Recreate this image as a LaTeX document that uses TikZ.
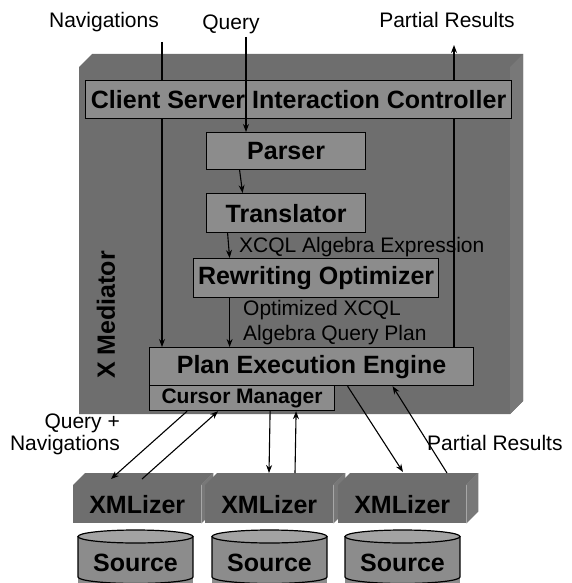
\documentclass[tikz,border=0pt]{standalone}
\usepackage{fontspec}
\setmainfont{Liberation Sans}
\usetikzlibrary{arrows.meta,calc}

\definecolor{slab}{gray}{0.43}
\definecolor{slabside}{gray}{0.47}
\definecolor{panel}{gray}{0.55}
\definecolor{drum}{gray}{0.55}
\definecolor{drumtop}{gray}{0.64}

\tikzset{
  module/.style={draw=black, line width=1.2pt, fill=panel, inner sep=0pt,
    anchor=north west, font=\fontsize{25}{30}\selectfont\bfseries},
  smallmodule/.style={module, font=\fontsize{21}{25}\selectfont\bfseries},
  wrapper/.style={fill=slab, inner sep=0pt, anchor=north west,
    minimum width=128, minimum height=38,
    font=\fontsize{25}{30}\selectfont\bfseries},
  store/.style={inner sep=0pt, font=\fontsize{25}{30}\selectfont\bfseries},
  note/.style={inner sep=0pt, font=\fontsize{21}{25}\selectfont},
  wire/.style={line width=1.1pt},
  flow/.style={wire, -{Stealth[length=8pt,width=6pt]}},
}

\begin{document}
\begin{tikzpicture}[x=1pt,y=-1pt]
\useasboundingbox (0,0) rectangle (572,583);

% mediator slab: front, top and right faces
\fill[slab] (79,67) -- (92,54) -- (523,54) -- (523,401) -- (510,414) -- (79,414) -- cycle;
\fill[slabside] (510,67) -- (523,54) -- (523,401) -- (510,414) -- cycle;
\node[rotate=90, inner sep=0pt, font=\fontsize{25}{30}\selectfont\bfseries] (med) at (106,315) {X Mediator};

% mediator modules
\node[module, minimum width=426, minimum height=38] (client) at (85,80) {Client Server Interaction Controller};
\node[module, minimum width=159, minimum height=37] (parser) at (206,132) {Parser};
\node[module, minimum width=159, minimum height=39] (trans) at (206,193) {Translator};
\node[module, minimum width=245, minimum height=39] (rewrite) at (193,258) {Rewriting Optimizer};
\node[module, minimum width=324, minimum height=38] (pee) at (149,347) {Plan Execution Engine};
\node[smallmodule, minimum width=185, minimum height=25] (cm) at (149,385) {Cursor Manager};

% top labels
\node[note, anchor=base] (nav) at (104,28) {Navigations};
\node[note, anchor=base] (query) at (231,30) {Query};
\node[note, anchor=base] (pres) at (447,28) {Partial Results};
\coordinate (navin) at (162,42);
\coordinate (qin) at (246,37);
\coordinate (prout) at (454,45);

% inner annotations
\node[note, anchor=base west] (xcql) at (239,252) {XCQL Algebra Expression};
\node[note, anchor=base west] (opt1) at (243,315) {Optimized XCQL};
\node[note, anchor=base west] (opt2) at (243,340) {Algebra Query Plan};

% client-side connectors
\draw[wire] (navin) -- (navin |- client.north);
\draw[flow] (navin |- client.south) -- (navin |- pee.north);
\draw[flow] (qin) -- (qin |- parser.north);
\draw[flow] (prout |- client.north) -- (prout);
\draw[wire] (prout |- pee.north) -- (prout |- client.south);

% compilation pipeline
\draw[flow] ([xshift=-46.5]parser.south) -- ([xshift=-43.5]trans.north);
\draw[flow] ([xshift=-58.5]trans.south) -- ([xshift=-86.5]rewrite.north);
\draw[flow] ([xshift=-86.5]rewrite.south) -- ([xshift=-86.5]rewrite.south |- pee.north);

% wrappers with top and side faces
\foreach \n/\x in {xml1/73, xml2/205, xml3/338} {
  \node[wrapper] (\n) at (\x,485) {};
  \fill[slab] (\n.north west) -- ++(12,-12) -- ($(\n.north east)+(12,-12)$) -- (\n.north east) -- cycle;
  \fill[slabside] (\n.north east) -- ++(12,-12) -- ($(\n.south east)+(12,-12)$) -- (\n.south east) -- cycle;
  \node[wrapper] at (\n.north west) {XMLizer};
}

% data sources
\foreach \n/\x in {src1/78, src2/212, src3/345} {
  \fill[drum] (\x,536.5) rectangle ++(115,50);
  \draw[line width=1.2pt] (\x,536.5) -- (\x,577)
    arc[start angle=180, end angle=360, x radius=57.5pt, y radius=6.5pt] -- (\x+115,536.5);
  \draw[line width=1.2pt, fill=drumtop] (\x+57.5,536.5) ellipse [x radius=57.5pt, y radius=6.5pt];
  \node[store] (\n) at (\x+57.5,563) {Source};
}

% mediator to wrapper connectors
\draw[flow] ([xshift=-55]cm.south) -- ($(xml1.north west)+(38,-6)$);
\draw[flow] ($(xml1.north west)+(69,-6)$) -- ([xshift=-24]cm.south);
\draw[flow] ([xshift=28]cm.south) -- ($(xml2.north west)+(64,-12)$);
\draw[flow] ($(xml2.north west)+(90,-12)$) -- ([xshift=54]cm.south);
\draw[flow] ([xshift=36]pee.south) -- ($(xml3.north west)+(65,-13)$);
\draw[flow] ($(xml3.north west)+(109,-12)$) -- ([xshift=81]pee.south);

% lower labels
\node[note, anchor=base east] (qn1) at (120,428) {Query +};
\node[note, anchor=base east] (qn2) at (120,450) {Navigations};
\node[note, anchor=base west] (pres2) at (427,450) {Partial Results};
\end{tikzpicture}
\end{document}
